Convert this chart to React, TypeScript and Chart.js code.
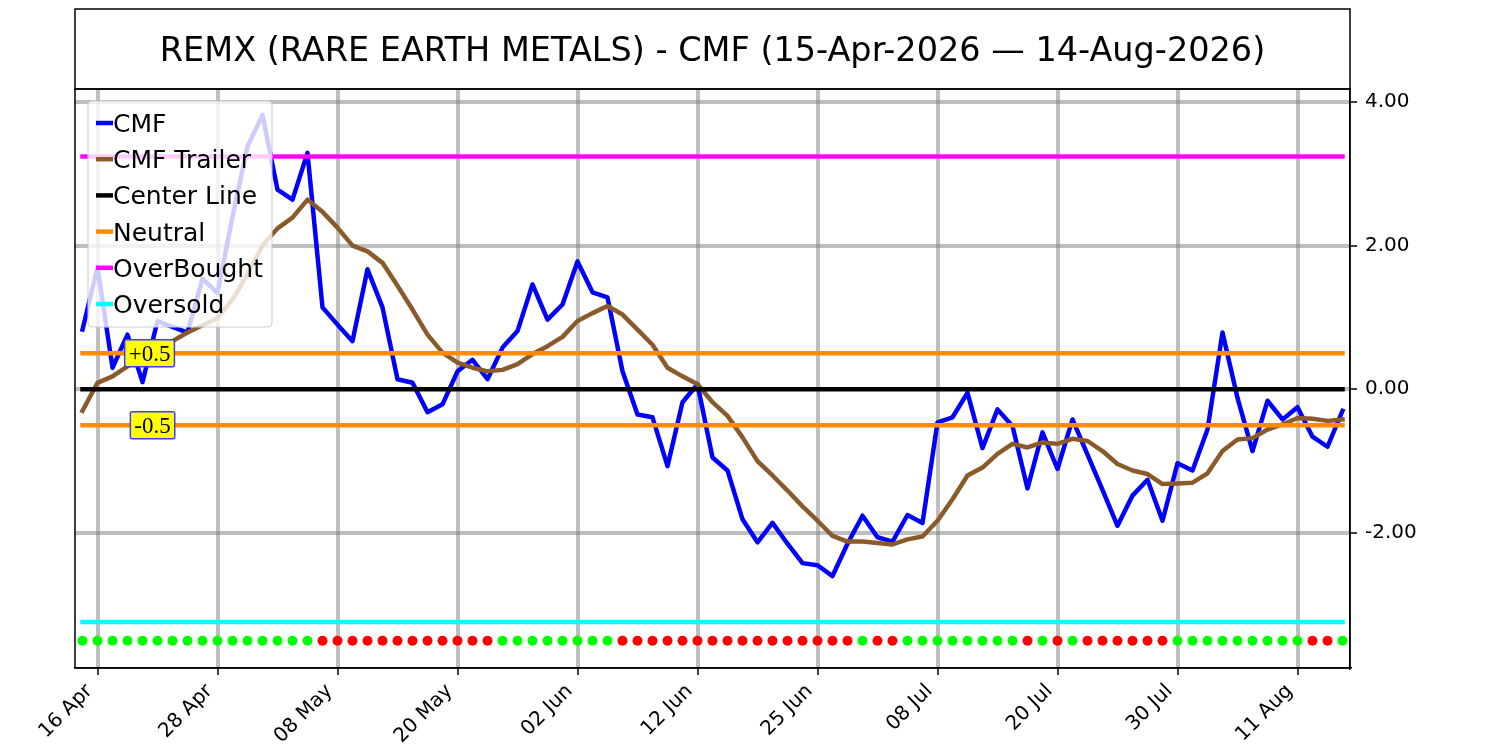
import React, { useEffect, useRef } from "react";
import { Chart, registerables } from "chart.js";

Chart.register(...registerables);

const TITLE = "REMX (RARE EARTH METALS) - CMF (15-Apr-2026 \u2014 14-Aug-2026)";

const tickLabels = ["16 Apr", "28 Apr", "08 May", "20 May", "02 Jun", "12 Jun", "25 Jun", "08 Jul", "20 Jul", "30 Jul", "11 Aug"];
const tickIndices = [1, 9, 17, 25, 33, 41, 49, 57, 65, 73, 81];
const yTicks = [-2, 0, 2, 4];

const cmf = [
  0.83, 1.7, 0.3, 0.76, 0.1, 0.95, 0.87, 0.79, 1.54, 1.34,
  2.4, 3.38, 3.82, 2.78, 2.64, 3.29, 1.14, 0.9, 0.67, 1.67,
  1.14, 0.14, 0.09, -0.32, -0.21, 0.25, 0.41, 0.14, 0.58, 0.81,
  1.46, 0.97, 1.18, 1.78, 1.35, 1.28, 0.25, -0.35, -0.39, -1.07,
  -0.18, 0.07, -0.95, -1.13, -1.81, -2.13, -1.86, -2.15, -2.42, -2.45,
  -2.6, -2.15, -1.76, -2.06, -2.12, -1.75, -1.86, -0.46, -0.39, -0.05,
  -0.82, -0.28, -0.51, -1.38, -0.6, -1.11, -0.42, -0.91, -1.4, -1.9,
  -1.48, -1.26, -1.83, -1.03, -1.13, -0.56, 0.79, -0.12, -0.86, -0.16,
  -0.42, -0.25, -0.66, -0.8, -0.3,
];

const cmfTrailer = [
  -0.3, 0.09, 0.18, 0.32, 0.45, 0.55, 0.67, 0.79, 0.89, 0.99,
  1.25, 1.6, 2.0, 2.24, 2.39, 2.64, 2.47, 2.25, 2.0, 1.92,
  1.76, 1.44, 1.11, 0.76, 0.51, 0.37, 0.3, 0.25, 0.27, 0.35,
  0.49, 0.6, 0.73, 0.95, 1.06, 1.16, 1.04, 0.83, 0.62, 0.3,
  0.18, 0.07, -0.18, -0.37, -0.67, -1.0, -1.2, -1.41, -1.63, -1.83,
  -2.04, -2.12, -2.12, -2.14, -2.16, -2.09, -2.05, -1.83, -1.53, -1.2,
  -1.09, -0.9, -0.76, -0.81, -0.74, -0.76, -0.69, -0.72, -0.86, -1.04,
  -1.13, -1.18, -1.32, -1.31, -1.3, -1.17, -0.86, -0.7, -0.68, -0.56,
  -0.49, -0.4, -0.41, -0.44, -0.42,
];

// G = bullish (green dot), R = bearish (red dot)
const signals = [
  "G", "G", "G", "G", "G", "G", "G", "G", "G", "G", "G", "G", "G", "G", "G", "G",
  "R", "R", "R", "R", "R", "R", "R", "R", "R", "R", "R", "R",
  "G", "G", "G", "G", "G", "G", "G", "G",
  "R", "R", "R", "R", "R", "R", "R", "R", "R", "R", "R", "R", "R", "R", "R", "R",
  "G", "R", "R",
  "G", "G", "G", "G", "G", "G", "G", "G",
  "R", "G", "R", "G",
  "R", "R", "R", "R", "R", "R",
  "G", "G", "G", "G", "G", "G", "G", "G", "G",
  "R", "R", "G",
];

const centerLevel = 0;
const neutralUpper = 0.5;
const neutralLower = -0.5;
const overBought = 3.24;
const overSold = -3.24;
const signalLevel = -3.5;

const annotationTexts = ["+0.5", "-0.5"];
const annotationX = [4.47, 4.67];
const annotationY = [0.5, -0.5];

const COLORS = {
  cmf: "#0000ff",
  trailer: "#8B5A2B",
  center: "#000000",
  neutral: "#ff8c00",
  overBought: "#ff00ff",
  overSold: "#00ffff",
  green: "#00ff00",
  red: "#ff0000",
};

const legendItems = [
  { label: "CMF", color: COLORS.cmf },
  { label: "CMF Trailer", color: COLORS.trailer },
  { label: "Center Line", color: COLORS.center },
  { label: "Neutral", color: COLORS.neutral },
  { label: "OverBought", color: COLORS.overBought },
  { label: "Oversold", color: COLORS.overSold },
];

const SANS = "'DejaVu Sans', sans-serif";
const TICK_FONT = 20;

function roundRect(ctx: CanvasRenderingContext2D, x: number, y: number, w: number, h: number, r: number) {
  ctx.beginPath();
  ctx.moveTo(x + r, y);
  ctx.lineTo(x + w - r, y);
  ctx.arcTo(x + w, y, x + w, y + r, r);
  ctx.lineTo(x + w, y + h - r);
  ctx.arcTo(x + w, y + h, x + w - r, y + h, r);
  ctx.lineTo(x + r, y + h);
  ctx.arcTo(x, y + h, x, y + h - r, r);
  ctx.lineTo(x, y + r);
  ctx.arcTo(x, y, x + r, y, r);
  ctx.closePath();
}

const decorPlugin = {
  id: "decor",
  afterDatasetsDraw(chart: any) {
    const ctx: CanvasRenderingContext2D = chart.ctx;
    const { chartArea, scales } = chart;
    // annotations
    ctx.save();
    ctx.font = "23px 'Liberation Serif', serif";
    annotationTexts.forEach((t, k) => {
      const cx = scales.x.getPixelForValue(annotationX[k]);
      const cy = scales.y.getPixelForValue(annotationY[k]);
      const w = ctx.measureText(t).width + 8;
      const h = 27;
      roundRect(ctx, cx - w / 2, cy - h / 2, w, h, 2);
      ctx.fillStyle = "#ffff00";
      ctx.fill();
      ctx.lineWidth = 1.5;
      ctx.strokeStyle = "#3c3cff";
      ctx.stroke();
      ctx.fillStyle = "#000";
      ctx.textAlign = "center";
      ctx.textBaseline = "alphabetic";
      ctx.fillText(t, cx, cy + 8);
    });
    ctx.restore();

    // legend
    ctx.save();
    const lx = chartArea.left + 13;
    const ly = chartArea.top + 12;
    roundRect(ctx, lx, ly, 184, 226, 4);
    ctx.fillStyle = "rgba(255,255,255,0.8)";
    ctx.fill();
    ctx.lineWidth = 1;
    ctx.strokeStyle = "#cccccc";
    ctx.stroke();
    ctx.font = "25px " + SANS;
    ctx.textAlign = "left";
    ctx.textBaseline = "alphabetic";
    legendItems.forEach((it, k) => {
      const rowY = ly + 22 + k * 36.2;
      ctx.beginPath();
      ctx.moveTo(lx + 8, rowY);
      ctx.lineTo(lx + 25, rowY);
      ctx.lineWidth = 4.5;
      ctx.strokeStyle = it.color;
      ctx.stroke();
      ctx.fillStyle = "#000";
      ctx.fillText(it.label, lx + 25, rowY + 9);
    });
    ctx.restore();
  },
  afterDraw(chart: any) {
    const ctx: CanvasRenderingContext2D = chart.ctx;
    const { chartArea } = chart;
    ctx.save();
    ctx.strokeStyle = "#000";
    ctx.lineWidth = 1.5;
    // plot frame
    ctx.strokeRect(chartArea.left, chartArea.top, chartArea.right - chartArea.left, chartArea.bottom - chartArea.top);
    // title box
    const top = chartArea.top - 80;
    ctx.strokeRect(chartArea.left, top, chartArea.right - chartArea.left, 80);
    ctx.fillStyle = "#000";
    ctx.font = "33.5px " + SANS;
    ctx.textAlign = "center";
    ctx.textBaseline = "alphabetic";
    ctx.fillText(TITLE, (chartArea.left + chartArea.right) / 2, top + 52);
    ctx.restore();
  },
};

export default function App() {
  const ref = useRef<HTMLCanvasElement | null>(null);

  useEffect(() => {
    if (!ref.current) return;
    const last = cmf.length - 1;
    const hline = (v: number) => [
      { x: 0, y: v },
      { x: last, y: v },
    ];
    const lineBase = {
      pointRadius: 0,
      borderWidth: 4.5,
      tension: 0,
      fill: false,
      borderJoinStyle: "round" as const,
      borderCapStyle: "square" as const,
    };
    const chart = new Chart(ref.current, {
      type: "line",
      data: {
        datasets: [
          { ...lineBase, label: "CMF", data: cmf.map((v, i) => ({ x: i, y: v })), borderColor: COLORS.cmf, order: 7 },
          { ...lineBase, label: "CMF Trailer", data: cmfTrailer.map((v, i) => ({ x: i, y: v })), borderColor: COLORS.trailer, order: 6 },
          { ...lineBase, label: "Center Line", data: hline(centerLevel), borderColor: COLORS.center, order: 5 },
          { ...lineBase, label: "Neutral", data: hline(neutralUpper), borderColor: COLORS.neutral, order: 4 },
          { ...lineBase, label: "Neutral Lower", data: hline(neutralLower), borderColor: COLORS.neutral, order: 4 },
          { ...lineBase, label: "OverBought", data: hline(overBought), borderColor: COLORS.overBought, order: 3 },
          { ...lineBase, label: "Oversold", data: hline(overSold), borderColor: COLORS.overSold, order: 2 },
          {
            label: "Signal",
            data: signals.map((_, i) => ({ x: i, y: signalLevel })),
            showLine: false,
            pointRadius: 5,
            pointBorderWidth: 0,
            pointBackgroundColor: signals.map((s) => (s === "G" ? COLORS.green : COLORS.red)),
            pointBorderColor: signals.map((s) => (s === "G" ? COLORS.green : COLORS.red)),
            order: 1,
          },
        ],
      },
      options: {
        animation: false,
        responsive: false,
        devicePixelRatio: 1,
        layout: { padding: { left: 75, top: 89, right: 0, bottom: 0 } },
        plugins: {
          legend: { display: false },
          title: { display: false },
          tooltip: { enabled: false },
        },
        scales: {
          x: {
            type: "linear",
            position: "bottom",
            min: -0.5,
            max: 84.5,
            afterBuildTicks: (s: any) => {
              s.ticks = tickIndices.map((v) => ({ value: v }));
            },
            afterFit: (s: any) => {
              s.height = 82;
            },
            ticks: {
              autoSkip: false,
              minRotation: 45,
              maxRotation: 45,
              padding: 4.5,
              labelOffset: -8,
              color: "#000",
              font: { family: SANS, size: TICK_FONT },
              callback: (v: any) => {
                const k = tickIndices.indexOf(Number(v));
                return k >= 0 ? tickLabels[k] : "";
              },
            },
            grid: {
              color: "rgba(128,128,128,0.5)",
              lineWidth: 4,
              tickColor: "#000",
              tickWidth: 1.5,
              tickLength: 7,
            },
            border: { display: true, color: "#000", width: 1.5 },
          },
          y: {
            type: "linear",
            position: "right",
            min: -3.88,
            max: 4.18,
            afterBuildTicks: (s: any) => {
              s.ticks = yTicks.map((v) => ({ value: v }));
            },
            afterFit: (s: any) => {
              s.width = 150;
            },
            ticks: {
              padding: 8,
              color: "#000",
              font: { family: SANS, size: TICK_FONT },
              callback: (v: any) => Number(v).toFixed(2),
            },
            grid: {
              color: "rgba(128,128,128,0.5)",
              lineWidth: 4,
              tickColor: "#000",
              tickWidth: 1.5,
              tickLength: 7,
            },
            border: { display: true, color: "#000", width: 1.5 },
          },
        },
      },
      plugins: [decorPlugin],
    } as any);
    return () => chart.destroy();
  }, []);

  return (
    <div style={{ position: "absolute", left: 0, top: 0, width: 1500, height: 750, background: "#fff" }}>
      <canvas ref={ref} width={1500} height={750} style={{ display: "block", width: 1500, height: 750 }} />
    </div>
  );
}
